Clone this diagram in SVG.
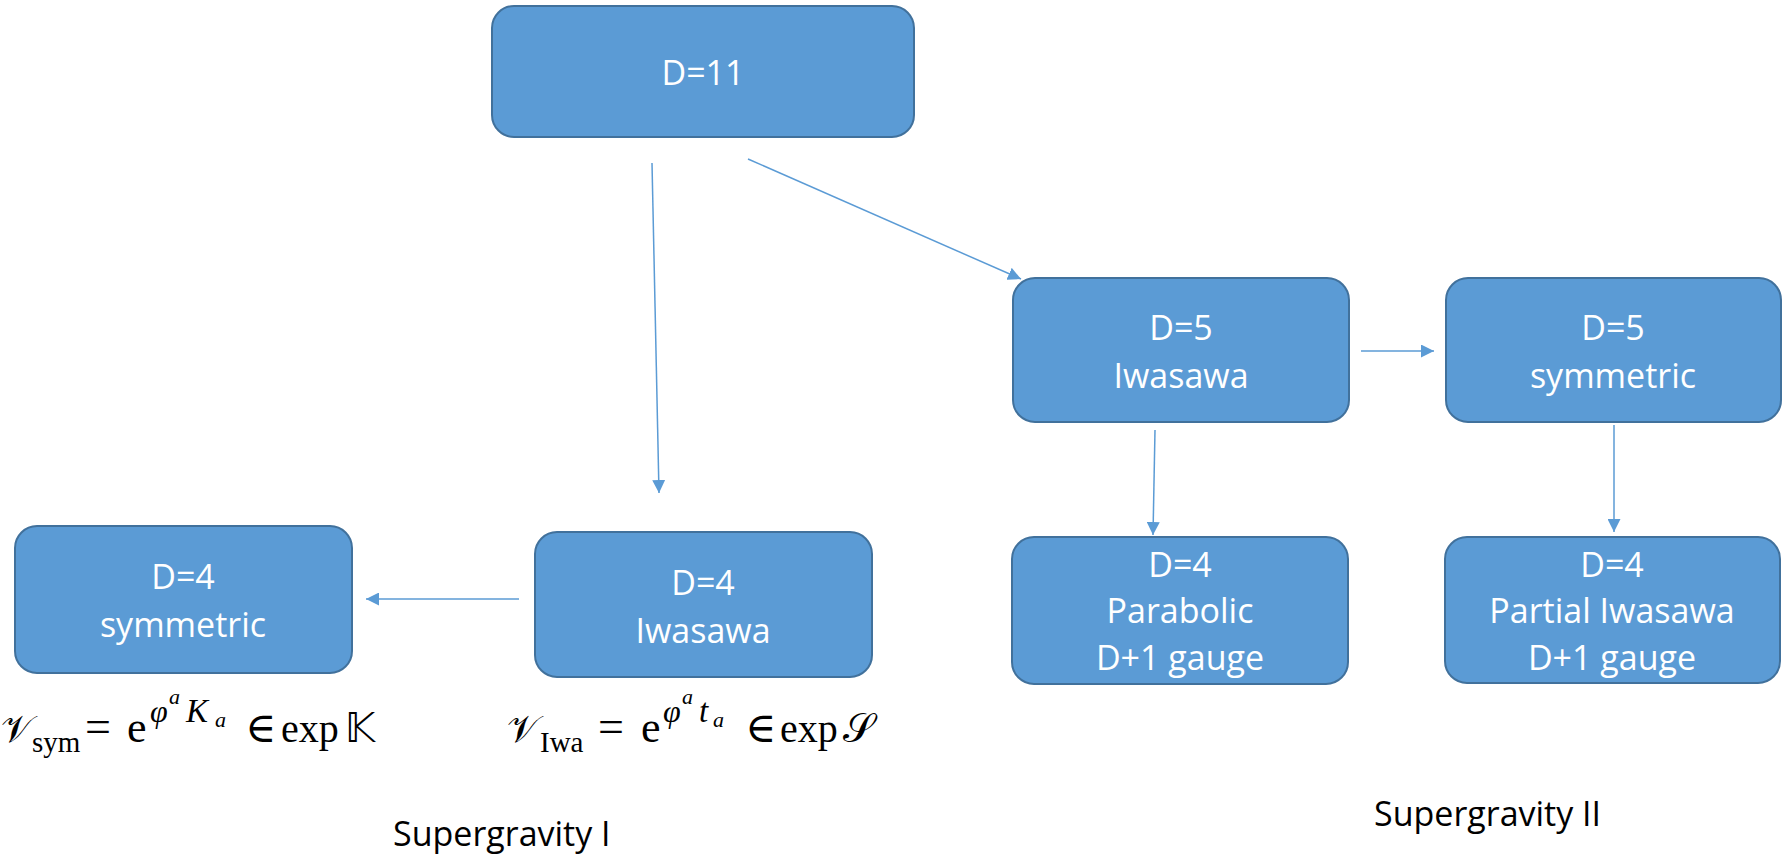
<svg xmlns="http://www.w3.org/2000/svg" width="1785" height="857" viewBox="0 0 1785 857">
<style>
.box{fill:#5B9BD5;stroke:#41719C;stroke-width:2}
.lbl{font-family:"Open Sans","Noto Sans",sans-serif;font-size:34px;fill:#FFFFFF;text-anchor:middle}
.cap{font-family:"Open Sans","Noto Sans",sans-serif;font-size:34px;fill:#000000}
.conn{stroke:#5B9BD5;stroke-width:1.5;fill:none;marker-end:url(#arr)}
.m{font-family:"Liberation Serif","DejaVu Serif",serif;fill:#000000}
.mi{font-family:"Liberation Serif","DejaVu Serif",serif;font-style:italic;fill:#000000}
.ms{font-family:"DejaVu Sans","Liberation Serif",serif;fill:#000000}
</style>
<defs>
<marker id="arr" markerUnits="userSpaceOnUse" markerWidth="13" markerHeight="13" viewBox="0 0 12 12" refX="12" refY="6" orient="auto">
<path d="M0,0 L12,6 L0,12 z" fill="#5B9BD5"/>
</marker>
</defs>
<g id="connectors">
<line class="conn" x1="652" y1="163" x2="659" y2="493"/>
<line class="conn" x1="748" y1="159" x2="1021" y2="279"/>
<line class="conn" x1="519" y1="599" x2="366" y2="599"/>
<line class="conn" x1="1361" y1="351" x2="1434" y2="351"/>
<line class="conn" x1="1155" y1="430" x2="1153" y2="535"/>
<line class="conn" x1="1614" y1="425" x2="1614" y2="532"/>
</g>
<g id="n-d11">
<rect class="box" x="492" y="6" width="422" height="131" rx="22"/>
<text class="lbl" x="703" y="85">D=11</text>
</g>
<g id="n-d5-iwasawa">
<rect class="box" x="1013" y="278" width="336" height="144" rx="22"/>
<text class="lbl" x="1181" y="340">D=5</text>
<text class="lbl" x="1181" y="388">Iwasawa</text>
</g>
<g id="n-d5-symmetric">
<rect class="box" x="1446" y="278" width="335" height="144" rx="22"/>
<text class="lbl" x="1613" y="340">D=5</text>
<text class="lbl" x="1613" y="388">symmetric</text>
</g>
<g id="n-d4-parabolic">
<rect class="box" x="1012" y="537" width="336" height="147" rx="22"/>
<text class="lbl" x="1180" y="577">D=4</text>
<text class="lbl" x="1180" y="623">Parabolic</text>
<text class="lbl" x="1180" y="670">D+1 gauge</text>
</g>
<g id="n-d4-partial">
<rect class="box" x="1445" y="537" width="335" height="146" rx="22"/>
<text class="lbl" x="1612" y="577">D=4</text>
<text class="lbl" x="1612" y="623">Partial Iwasawa</text>
<text class="lbl" x="1612" y="670">D+1 gauge</text>
</g>
<g id="n-d4-iwasawa">
<rect class="box" x="535" y="532" width="337" height="145" rx="22"/>
<text class="lbl" x="703" y="595">D=4</text>
<text class="lbl" x="703" y="643">Iwasawa</text>
</g>
<g id="n-d4-symmetric">
<rect class="box" x="15" y="526" width="337" height="147" rx="22"/>
<text class="lbl" x="183" y="589">D=4</text>
<text class="lbl" x="183" y="637">symmetric</text>
</g>
<g id="formula-sym">
<text class="ms" x="1" y="742" font-size="38">𝒱</text>
<text class="m" x="32" y="752" font-size="29">sym</text>
<text class="m" x="85" y="742" font-size="46">=</text>
<text class="m" x="127" y="742" font-size="44">e</text>
<text class="mi" x="150" y="722" font-size="32">φ</text>
<text class="mi" x="169" y="704" font-size="22">a</text>
<text class="mi" x="186" y="722" font-size="33">K</text>
<text class="mi" x="215" y="727" font-size="22">a</text>
<text class="m" x="245" y="742" font-size="42">∈</text>
<text class="m" x="281" y="742" font-size="40">exp</text>
<text class="ms" x="345" y="742" font-size="40">𝕂</text>
</g>
<g id="formula-iwa">
<text class="ms" x="507" y="742" font-size="38">𝒱</text>
<text class="m" x="540" y="752" font-size="29">Iwa</text>
<text class="m" x="598" y="742" font-size="46">=</text>
<text class="m" x="641" y="742" font-size="44">e</text>
<text class="mi" x="663" y="722" font-size="32">φ</text>
<text class="mi" x="682" y="704" font-size="22">a</text>
<text class="mi" x="699" y="722" font-size="33">t</text>
<text class="mi" x="713" y="727" font-size="22">a</text>
<text class="m" x="745" y="742" font-size="42">∈</text>
<text class="m" x="780" y="742" font-size="40">exp</text>
<text class="ms" x="843" y="742" font-size="40">𝒮</text>
</g>
<g id="captions">
<text class="cap" x="393" y="846">Supergravity I</text>
<text class="cap" x="1374" y="826">Supergravity II</text>
</g>
</svg>
